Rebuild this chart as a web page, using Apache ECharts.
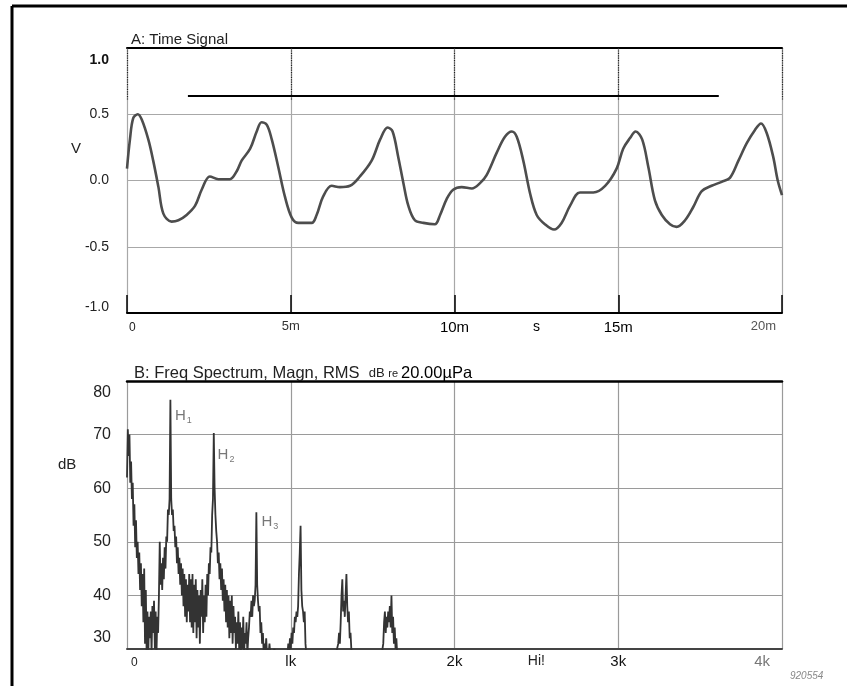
<!DOCTYPE html>
<html>
<head>
<meta charset="utf-8">
<script src="https://cdn.jsdelivr.net/npm/echarts@6/dist/echarts.min.js"></script>
<style>
html,body{margin:0;padding:0;background:#fff;}
#chart{width:847px;height:686px;}
</style>
</head>
<body>
<div id="chart"></div>
<script>
// ---- A: time signal (ms, V) ----
const timeMs = [0, 0.09, 0.19, 0.33, 0.45, 0.65, 0.80, 0.96, 1.11, 1.36,
  1.57, 1.82, 2.08, 2.28, 2.53, 2.79, 3.14, 3.35, 3.50, 3.76,
  3.96, 4.11, 4.27, 4.42, 4.62, 4.82, 5.03, 5.23, 5.64, 5.79,
  5.99, 6.25, 6.50, 6.81, 7.11, 7.47, 7.73, 7.96, 8.11, 8.28,
  8.44, 8.59, 8.79, 9.05, 9.40, 9.56, 9.76, 9.96, 10.22, 10.53,
  10.78, 10.98, 11.29, 11.54, 11.75, 11.90, 12.10, 12.31, 12.51, 12.76,
  13.04, 13.27, 13.53, 13.83, 14.24, 14.60, 14.95, 15.15, 15.36, 15.53,
  15.73, 15.92, 16.12, 16.33, 16.58, 16.78, 17.04, 17.29, 17.55, 17.85,
  18.16, 18.41, 18.67, 18.92, 19.17, 19.36, 19.53, 19.73, 19.87, 20.0];
const volts = [0.09, 0.31, 0.47, 0.50, 0.46, 0.31, 0.15, -0.05, -0.25, -0.31,
  -0.30, -0.26, -0.19, -0.07, 0.03, 0.01, 0.01, 0.07, 0.15, 0.24,
  0.37, 0.44, 0.42, 0.31, 0.10, -0.12, -0.28, -0.32, -0.32, -0.26,
  -0.12, -0.04, -0.05, -0.04, 0.03, 0.15, 0.31, 0.40, 0.37, 0.18,
  -0.02, -0.19, -0.30, -0.32, -0.33, -0.26, -0.14, -0.07, -0.05, -0.06,
  -0.02, 0.04, 0.21, 0.33, 0.37, 0.33, 0.15, -0.10, -0.26, -0.33,
  -0.37, -0.32, -0.19, -0.09, -0.09, -0.04, 0.09, 0.24, 0.32, 0.37,
  0.31, 0.10, -0.15, -0.26, -0.33, -0.35, -0.30, -0.20, -0.08, -0.04,
  -0.01, 0.02, 0.15, 0.28, 0.38, 0.43, 0.36, 0.18, 0.00, -0.11];
const refLineStartMs = 1.86, refLineEndMs = 18.07, refLineV = 0.643;
const timeTicksMs = [0, 5, 10, 15, 20];
const timeTickLabels = ['0', '5m', '10m', '15m', '20m'];
const voltTicks = [-1.0, -0.5, 0.0, 0.5, 1.0];

// ---- B: spectrum (5 Hz bins, dB re 20 µPa; 29 = below the 30 dB floor) ----
const binHz = 5;
const spectrumDb = [
  62, 71, 66, 70, 61, 65, 58, 61, 53, 57, 49, 54, 47, 50, 44, 48, 41, 46, 38, 44,
  35, 45, 31, 41, 29, 37, 29, 36, 32, 37, 29, 38, 33, 39, 30, 37, 29, 36, 33, 40,
  50, 42, 46, 41, 47, 43, 49, 45, 51, 50, 56, 55, 58, 76.5, 58, 55, 56, 52, 53, 49,
  51, 46, 49, 44, 47, 42, 46, 40, 45, 38, 44, 36, 43, 35, 42, 37, 44, 35, 43, 34,
  44, 33, 42, 35, 43, 32, 41, 34, 40, 31, 41, 36, 43, 33, 40, 35, 42, 36, 44, 40,
  46, 44, 49, 48, 55, 58, 70.3, 60, 55, 52, 50, 46, 48, 43, 46, 41, 45, 39, 43, 37,
  42, 35, 41, 34, 40, 32, 39, 33, 40, 31, 38, 33, 36, 30, 35, 31, 37, 30, 35, 29,
  34, 30, 36, 29, 33, 31, 35, 29, 32, 34, 37, 36, 39, 36, 40, 38, 39, 42, 55.5, 42,
  39, 37, 38, 33, 35, 31, 33, 29, 31, 29, 32, 29, 30, 29, 31, 29, 29, 29, 29, 29,
  30, 29, 29, 29, 29, 29, 29, 29, 29, 29, 29, 29, 29, 29, 29, 29, 29, 31, 29, 32,
  30, 33, 31, 34, 33, 36, 35, 37, 36, 38, 44, 48, 53, 41, 38, 37, 35, 37, 31, 29,
  29, 29, 29, 29, 29, 29, 29, 29, 29, 29, 29, 29, 29, 29, 29, 29, 29, 29, 29, 29,
  29, 29, 29, 29, 29, 29, 29, 29, 29, 29, 29, 29, 29, 29, 29, 29, 29, 29, 31, 33,
  31, 35, 40, 43, 37, 39, 36, 40, 44, 38, 35, 37, 32, 33, 30, 29, 29, 29, 29, 29,
  29, 29, 29, 29, 29, 29, 29, 29, 29, 29, 29, 29, 29, 29, 29, 29, 29, 29, 29, 29,
  29, 29, 29, 29, 29, 29, 29, 29, 29, 29, 29, 29, 29, 31, 35, 37, 33, 36, 34, 37,
  35, 38, 34, 40, 33, 36, 31, 34, 30, 32, 29, 29];
const freqTicksHz = [0, 1000, 2000, 3000, 4000];
const freqTickLabels = ['0', 'lk', '2k', '3k', '4k'];
const dbTicks = [30, 40, 50, 60, 70, 80];
const harmonicNames = ['1', '2', '3'];
const harmonicLabelHz = [290, 550, 818];
const harmonicLabelDb = [73.5, 66.2, 53.7];

const chart = echarts.init(document.getElementById('chart'), null, {renderer: 'canvas'});
const FONT = 'Liberation Sans, Arial, sans-serif';

const timeData = timeMs.map((t, i) => [t, volts[i]]);
const specData = spectrumDb.map((v, i) => [i * binHz, v]);
const harmData = harmonicNames.map((n, i) => [harmonicLabelHz[i], harmonicLabelDb[i], n]);

const option = {
  animation: false,
  backgroundColor: '#fff',
  textStyle: {fontFamily: FONT},
  title: [
    {text: 'A: Time Signal', left: 126, top: 27,
     textStyle: {fontSize: 15, fontWeight: 'normal', color: '#222', fontFamily: FONT}},
    {text: '{a|B: Freq Spectrum, Magn, RMS  }{b|dB }{r|re }{c|20.00µPa}', left: 129, top: 360,
     textStyle: {fontFamily: FONT, fontWeight: 'normal', rich: {
       a: {fontSize: 16.5, color: '#222', fontFamily: FONT, fontWeight: 'normal'},
       b: {fontSize: 13, color: '#222', fontFamily: FONT, fontWeight: 'normal'},
       r: {fontSize: 11, color: '#222', fontFamily: FONT, fontWeight: 'normal'},
       c: {fontSize: 16.5, color: '#000', fontFamily: FONT, fontWeight: 'normal'}
     }}}
  ],
  grid: [
    {left: 127, top: 48, width: 655, height: 265},
    {left: 127, top: 381, width: 655, height: 268}
  ],
  xAxis: [
    {gridIndex: 0, type: 'value', min: 0, max: 20, interval: 5, position: 'bottom',
     axisLine: {onZero: false, lineStyle: {color: '#000', width: 2}},
     axisTick: {inside: true, length: 18, lineStyle: {color: '#000', width: 1.5}},
     splitLine: {show: true, lineStyle: {color: '#a8a8a8', width: 1.2}},
     axisLabel: {margin: 7, alignMinLabel: 'left', alignMaxLabel: 'right',
       formatter: v => {
         const i = timeTicksMs.indexOf(v);
         const s = i >= 0 ? timeTickLabels[i] : '';
         if (v === 0) return '{a|' + s + '}';
         if (v === 5) return '{b|' + s + '}';
         if (v === 20) return '{d|' + s + '}';
         return '{c|' + s + '}';
       },
       rich: {
         a: {fontSize: 12, color: '#222', fontFamily: FONT, padding: [2, 0, 0, 2]},
         b: {fontSize: 13, color: '#333', fontFamily: FONT},
         c: {fontSize: 15, color: '#000', fontFamily: FONT},
         d: {fontSize: 13, color: '#555', fontFamily: FONT, padding: [0, 6, 0, 0]}
       }}},
    {gridIndex: 0, type: 'value', min: 0, max: 20, interval: 5, position: 'top',
     axisLine: {onZero: false, lineStyle: {color: '#000', width: 2}},
     axisTick: {inside: true, length: 52, lineStyle: {color: '#222', width: 1.2, type: 'dotted'}},
     splitLine: {show: false}, axisLabel: {show: false}},
    {gridIndex: 0, type: 'value', min: 0, max: 20, interval: 2.5, position: 'bottom',
     axisLine: {show: false, onZero: false}, axisTick: {show: false}, splitLine: {show: false},
     axisLabel: {margin: 7, fontSize: 14, color: '#000', fontFamily: FONT,
       formatter: v => v === 12.5 ? 's' : ''}},
    {gridIndex: 1, type: 'value', min: 0, max: 4000, interval: 1000, position: 'bottom',
     axisLine: {onZero: false, lineStyle: {color: '#444', width: 2}},
     axisTick: {show: false},
     splitLine: {show: true, lineStyle: {color: '#9a9a9a', width: 1.2}},
     axisLabel: {margin: 5, alignMinLabel: 'left', alignMaxLabel: 'right',
       formatter: v => {
         const i = freqTicksHz.indexOf(v);
         const s = i >= 0 ? freqTickLabels[i] : '';
         if (v === 0) return '{a|' + s + '}';
         if (v === 4000) return '{d|' + s + '}';
         return '{c|' + s + '}';
       },
       rich: {
         a: {fontSize: 12, color: '#222', fontFamily: FONT, padding: [3, 0, 0, 4]},
         c: {fontSize: 15, color: '#111', fontFamily: FONT},
         d: {fontSize: 15, color: '#777', fontFamily: FONT, padding: [0, 12, 0, 0]}
       }}},
    {gridIndex: 1, type: 'value', min: 0, max: 4000, interval: 1000, position: 'top',
     axisLine: {onZero: false, lineStyle: {color: '#000', width: 2.5}},
     axisTick: {show: false}, splitLine: {show: false}, axisLabel: {show: false}},
    {gridIndex: 1, type: 'value', min: 0, max: 4000, interval: 500, position: 'bottom',
     axisLine: {show: false, onZero: false}, axisTick: {show: false}, splitLine: {show: false},
     axisLabel: {margin: 5, fontSize: 14, color: '#222', fontFamily: FONT,
       formatter: v => v === 2500 ? 'Hi!' : ''}}
  ],
  yAxis: [
    {gridIndex: 0, type: 'value', min: -1, max: 1, interval: 0.5,
     axisLine: {show: false}, axisTick: {show: false},
     splitLine: {show: true, lineStyle: {color: '#a8a8a8', width: 1.2}},
     axisLabel: {margin: 18,
       formatter: v => {
         const s = voltTicks[voltTicks.indexOf(v)].toFixed(1);
         if (v === 1) return '{t|' + s + '}';
         if (v === -1) return '{m|' + s + '}';
         return '{n|' + s + '}';
       },
       rich: {
         t: {fontSize: 14, fontWeight: 'bold', color: '#111', fontFamily: FONT, padding: [24, 0, 0, 0]},
         m: {fontSize: 14, color: '#222', fontFamily: FONT, padding: [0, 0, 12, 0]},
         n: {fontSize: 14, color: '#222', fontFamily: FONT}
       }}},
    {gridIndex: 1, type: 'value', min: 30, max: 80, interval: 10,
     axisLine: {show: false}, axisTick: {show: false},
     splitLine: {show: true, lineStyle: {color: '#9a9a9a', width: 1.2}},
     axisLabel: {margin: 16,
       formatter: v => {
         const s = String(dbTicks[dbTicks.indexOf(v)]);
         if (v === 80) return '{t|' + s + '}';
         if (v === 30) return '{m|' + s + '}';
         return '{n|' + s + '}';
       },
       rich: {
         t: {fontSize: 16, color: '#222', fontFamily: FONT, padding: [24, 0, 0, 0]},
         m: {fontSize: 16, color: '#222', fontFamily: FONT, padding: [0, 0, 22, 0]},
         n: {fontSize: 16, color: '#222', fontFamily: FONT}
       }}}
  ],
  series: [
    {name: 'Time Signal', type: 'line', xAxisIndex: 0, yAxisIndex: 0,
     data: timeData, smooth: 0.35, symbol: 'none', clip: true,
     lineStyle: {color: '#4d4d4d', width: 2.6},
     markLine: {silent: true, symbol: 'none', label: {show: false},
       lineStyle: {color: '#000', width: 2, type: 'solid'},
       data: [[{coord: [refLineStartMs, refLineV]}, {coord: [refLineEndMs, refLineV]}]]}},
    {name: 'Freq Spectrum', type: 'line', xAxisIndex: 3, yAxisIndex: 1,
     data: specData, symbol: 'none', clip: true,
     lineStyle: {color: '#333', width: 1.8, join: 'miter', miterLimit: 2}},
    {name: 'Harmonics', type: 'scatter', xAxisIndex: 3, yAxisIndex: 1,
     data: harmData, symbolSize: 1, itemStyle: {color: 'rgba(0,0,0,0)'},
     label: {show: true, position: 'right', distance: 0,
       formatter: p => '{h|H}{s|' + p.data[2] + '}',
       rich: {
         h: {fontSize: 15, color: '#555', fontFamily: FONT},
         s: {fontSize: 9, color: '#555', fontFamily: FONT, verticalAlign: 'bottom', padding: [9, 0, 0, 1]}
       }}}
  ],
  graphic: [
    {type: 'line', shape: {x1: 12, y1: 6, x2: 847, y2: 6}, style: {stroke: '#000', lineWidth: 3}},
    {type: 'line', shape: {x1: 12, y1: 6, x2: 12, y2: 686}, style: {stroke: '#000', lineWidth: 3}},
    {type: 'text', left: 71, top: 141, style: {text: 'V', fontSize: 15, fill: '#222', fontFamily: FONT}},
    {type: 'text', left: 58, top: 457, style: {text: 'dB', fontSize: 15, fill: '#222', fontFamily: FONT}},
    {type: 'text', left: 790, top: 671, style: {text: '920554', fontSize: 10, fontStyle: 'italic', fill: '#888', fontFamily: FONT}}
  ]
};
chart.setOption(option);
</script>
</body>
</html>
